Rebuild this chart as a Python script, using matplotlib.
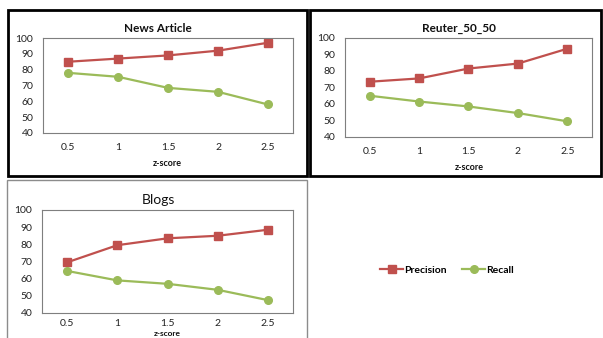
import matplotlib
matplotlib.use("Agg")
import matplotlib.pyplot as plt
from matplotlib.patches import Rectangle
from matplotlib.lines import Line2D

plt.rcParams['font.family'] = ['Lato', 'DejaVu Sans']

z_labels = ["0.5", "1", "1.5", "2", "2.5"]
news_precision = [85, 87, 89, 92, 97]
news_recall = [78, 75.5, 68.5, 66, 58]
reuter_precision = [73.5, 75.5, 81.5, 84.5, 93.5]
reuter_recall = [65, 61.5, 58.5, 54.5, 49.5]
blogs_precision = [69.5, 79.5, 83.5, 85, 88.5]
blogs_recall = [64.5, 59, 57, 53.5, 47.5]
y_ticks = [40, 50, 60, 70, 80, 90, 100]

W, H = 603, 338
RED = '#C0504D'
GREEN = '#9BBB59'

fig = plt.figure(figsize=(W / 100, H / 100), dpi=100)


def rect(l, t, r, b):
    return [l / W, 1 - b / H, (r - l) / W, (b - t) / H]


def fx(x):
    return x / W


def fy(y):
    return 1 - y / H


def panel(box, prec, rec, title, tx, ty, tbold, tsize, lx, ly, xpad=7, lsize=6.5):
    ax = fig.add_axes(rect(*box))
    xs = list(range(len(z_labels)))
    ax.plot(xs, prec, color=RED, lw=1.6, marker='s', ms=5.5, mec=RED, mfc=RED)
    ax.plot(xs, rec, color=GREEN, lw=1.6, marker='o', ms=5.5, mec=GREEN, mfc=GREEN)
    ax.set_xlim(-0.5, len(z_labels) - 0.5)
    ax.set_ylim(40, 100)
    ax.set_yticks(y_ticks)
    ax.set_xticks(xs)
    ax.set_xticklabels(z_labels)
    ax.tick_params(length=0, labelsize=7.5, colors='#222222')
    ax.tick_params(axis='x', pad=xpad)
    ax.tick_params(axis='y', pad=7)
    for s in ax.spines.values():
        s.set_color('#7f7f7f')
        s.set_linewidth(0.8)
    fig.text(fx(tx), fy(ty), title, ha='center', va='center',
             fontsize=tsize, fontweight='bold' if tbold else 'normal', color='#111111')
    fig.text(fx(lx), fy(ly), 'z-score', ha='center', va='center',
             fontsize=lsize, fontweight='bold', color='#111111')
    return ax


panel((43, 38, 293, 133), news_precision, news_recall, 'News Article', 158, 29, True, 8.5, 167, 163)
panel((345, 38, 592, 137), reuter_precision, reuter_recall, 'Reuter_50_50', 459, 29, True, 8.5, 469, 168)
panel((42, 210, 293, 313), blogs_precision, blogs_recall, 'Blogs', 158, 200, False, 10, 167, 333.5,
      xpad=4, lsize=6)

# panel borders
fig.patches.append(Rectangle((fx(8), fy(176)), (307 - 8) / W, (176 - 10) / H,
                             transform=fig.transFigure, fill=False, ec='black', lw=2.0))
fig.patches.append(Rectangle((fx(310), fy(176)), (601 - 310) / W, (176 - 10) / H,
                             transform=fig.transFigure, fill=False, ec='black', lw=2.0))
fig.patches.append(Rectangle((fx(7), fy(350)), (307 - 7) / W, (350 - 180) / H,
                             transform=fig.transFigure, fill=False, ec='#8c8c8c', lw=1.0))

handles = [Line2D([], [], color=RED, lw=1.6, marker='s', ms=5.5),
           Line2D([], [], color=GREEN, lw=1.6, marker='o', ms=5.5)]
fig.legend(handles, ['Precision', 'Recall'], loc='center',
           bbox_to_anchor=(fx(447), fy(270)), ncol=2, frameon=False,
           prop={'weight': 'bold', 'size': 7.5}, handlelength=2.2,
           handletextpad=0.1, columnspacing=1.5)

fig.savefig('out.png', dpi=100)
